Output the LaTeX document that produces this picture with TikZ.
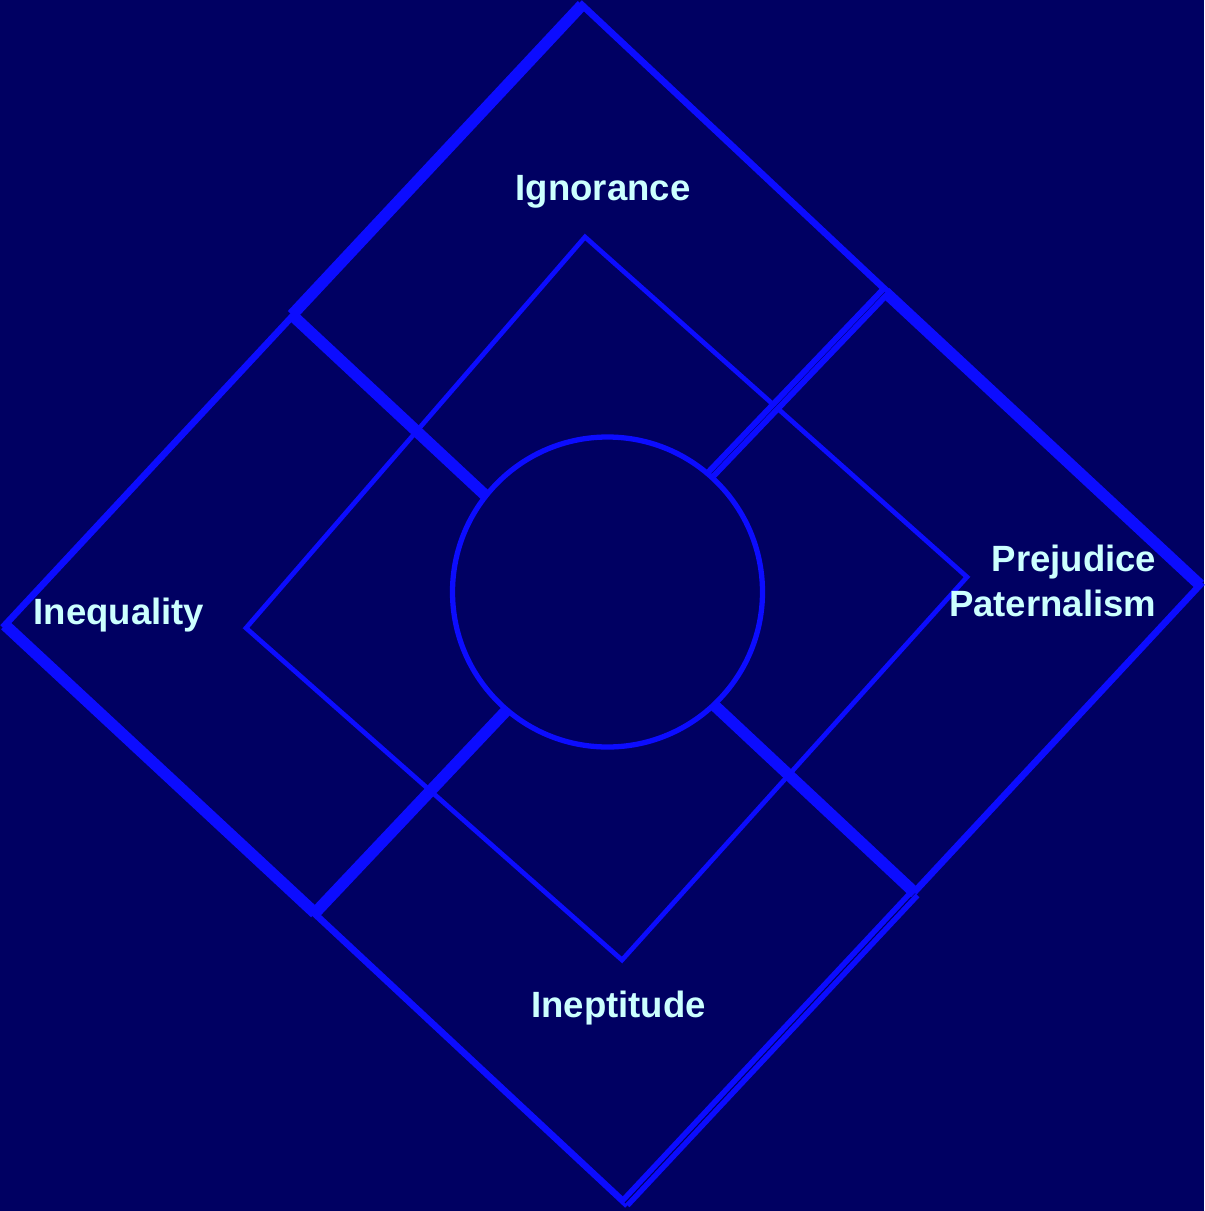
\documentclass[tikz,border=0pt]{standalone}
\usepackage{fontspec}
\setmainfont{Liberation Sans}
\usetikzlibrary{calc}
\definecolor{navy}{RGB}{0,0,98}
\definecolor{edgeblue}{RGB}{12,12,255}
\definecolor{labelcyan}{RGB}{204,255,255}
\tikzset{
  thinedge/.style={draw=edgeblue, line width=1.9pt},
  thickedge/.style={draw=edgeblue, line width=3.3pt},
  twinedge/.style={draw=edgeblue, line width=1.6pt, double=navy, double distance=0.3pt},
  twinspoke/.style={draw=edgeblue, line width=1.7pt, double=navy, double distance=0.1pt},
  inneredge/.style={draw=edgeblue, line width=1.35pt},
  ringtext/.style={text=labelcyan, inner sep=0pt, font=\bfseries\fontsize{10.4}{12.8}\selectfont}
}

\begin{document}
\begin{tikzpicture}[x=0.1mm, y=-0.1mm, line join=miter]
  \useasboundingbox (0,0) rectangle (1204,1211);
  \fill[navy] (0,0) rectangle (1204,1211); % background

  % outer diamond corners
  \coordinate (otop) at (582,5);
  \coordinate (oright) at (1200,585);
  \coordinate (obottom) at (625,1203);
  \coordinate (oleft) at (5,625);
  % where the spokes meet the outer diamond
  \coordinate (s1) at (292,315);
  \coordinate (s2) at (885,292);
  \coordinate (s3) at (915,893);
  \coordinate (s4) at (315,913);
  % where the spokes meet the circle
  \coordinate (c1) at (485,495);
  \coordinate (c2) at (711,474);
  \coordinate (c3) at (714,705);
  \coordinate (c4) at (505,712);
  % inner diamond corners
  \coordinate (itop) at (585,237);
  \coordinate (iright) at (967,577);
  \coordinate (ibottom) at (622,960);
  \coordinate (ileft) at (246,628);

  \draw[inneredge] (itop) -- (iright) -- (ibottom) -- (ileft) -- cycle; % inner diamond
  \draw[thinedge] (otop) -- (oright) -- (obottom) -- (oleft) -- cycle; % outer diamond
  \draw[thickedge] (s1) -- (otop);
  \draw[thickedge] (s2) -- (oright);
  \draw[twinedge] (s3) -- (obottom);
  \draw[thickedge] (s4) -- (oleft);

  % spokes
  \draw[thickedge] (s1) -- ($(s1)!1.08!(c1)$);
  \draw[twinspoke] (s2) -- ($(s2)!1.08!(c2)$);
  \draw[thickedge] (s3) -- ($(s3)!1.08!(c3)$);
  \draw[thickedge] (s4) -- ($(s4)!1.08!(c4)$);

  \node[circle, fill=navy, draw=edgeblue, line width=1.5pt, inner sep=0pt, minimum size=31mm] (hub) at (607.5,592) {};

  \node[ringtext, anchor=base] (ignorance) at (603,200) {Ignorance};
  \node[ringtext, anchor=base] (inequality) at (119,624) {Inequality};
  \node[ringtext, anchor=base] (ineptitude) at (618.5,1017) {Ineptitude};
  \node[ringtext, anchor=east, align=right] (prejudice) at (1157,580.5) {Prejudice\\Paternalism};
\end{tikzpicture}
\end{document}
